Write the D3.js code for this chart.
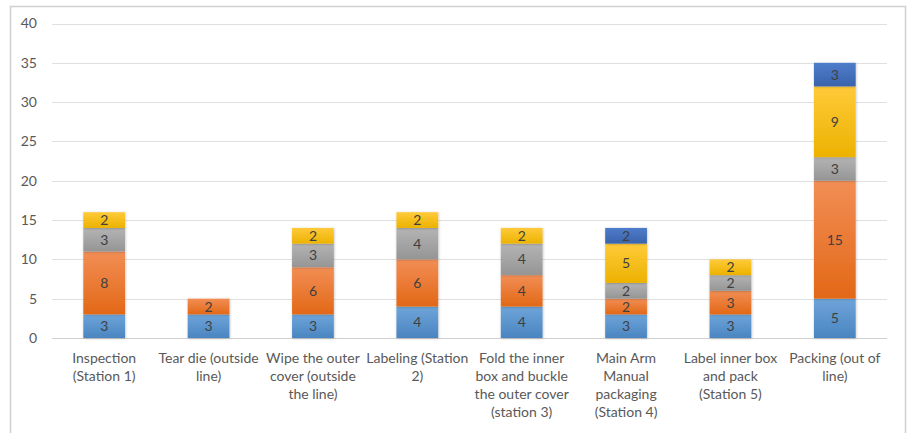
<!DOCTYPE html>
<html><head><meta charset="utf-8">
<script src="https://cdn.jsdelivr.net/npm/d3@7"></script>
<style>body{margin:0;background:#fff}svg{display:block}</style>
</head><body>
<svg id="c" width="907" height="433"></svg>
<script>
const categories = [
  "Inspection\n(Station 1)",
  "Tear die (outside\nline)",
  "Wipe the outer\ncover (outside\nthe line)",
  "Labeling (Station\n2)",
  "Fold the inner\nbox and buckle\nthe outer cover\n(station 3)",
  "Main Arm\nManual\npackaging\n(Station 4)",
  "Label inner box\nand pack\n(Station 5)",
  "Packing (out of\nline)"
];
const seriesNames = ["S1","S2","S3","S4","S5"];
const s1 = [3,3,3,4,4,3,3,5];
const s2 = [8,2,6,6,4,2,3,15];
const s3 = [3,0,3,4,4,2,2,3];
const s4 = [2,0,2,2,2,5,2,9];
const s5 = [0,0,0,0,0,2,0,3];
const yTicks = [0,5,10,15,20,25,30,35,40];

const colors = [
  ["#6ea4d9","#4a85c1"],
  ["#f28e55","#e26817"],
  ["#b4b4b4","#959595"],
  ["#ffca3a","#ecb200"],
  ["#4f7ccb","#3a63ab"]
];
const FONT = "Lato, 'Open Sans', sans-serif";

const svg = d3.select("#c");
svg.append("path").attr("d","M10.5,433 L10.5,6.5 L905.5,6.5 L905.5,433")
  .attr("fill","none").attr("stroke","#d0d0d0").attr("stroke-width",1.5);

const x = d3.scaleBand().domain(d3.range(categories.length)).range([52,887]).paddingInner(0.6).paddingOuter(0.3);
const y = d3.scaleLinear().domain([0,40]).range([338,23.5]);

const defs = svg.append("defs");
colors.forEach((c,i)=>{
  const g = defs.append("linearGradient").attr("id","g"+i).attr("x1",0).attr("y1",0).attr("x2",0).attr("y2",1);
  g.append("stop").attr("offset","0%").attr("stop-color",c[0]);
  g.append("stop").attr("offset","100%").attr("stop-color",c[1]);
});
const f = defs.append("filter").attr("id","sh").attr("x","-20%").attr("y","-20%").attr("width","140%").attr("height","140%");
f.append("feDropShadow").attr("dx",0.5).attr("dy",0.5).attr("stdDeviation",1).attr("flood-color","#000").attr("flood-opacity",0.25);

const grid = svg.append("g");
yTicks.forEach(t=>{
  grid.append("line").attr("x1",52).attr("x2",887).attr("y1",Math.round(y(t))+0.5).attr("y2",Math.round(y(t))+0.5)
    .attr("stroke", t===0 ? "#d0d0d0" : "#e0e0e0").attr("stroke-width", t===0?1.2:1);
});
const yAxis = d3.axisLeft(y).tickValues(yTicks).tickSize(0).tickPadding(0);
const ya = svg.append("g").attr("transform","translate(37,0)").call(yAxis);
ya.select(".domain").remove();
ya.selectAll("text").attr("fill","#595959").style("font-family",FONT).style("font-size","14px");

const data = categories.map((c,i)=>({i, S1:s1[i],S2:s2[i],S3:s3[i],S4:s4[i],S5:s5[i]}));
const stack = d3.stack().keys(seriesNames)(data);

const bars = svg.append("g");
stack.forEach((layer,si)=>{
  layer.forEach((d,ci)=>{
    const v = d[1]-d[0];
    if (v<=0) return;
    bars.append("rect").attr("x",x(ci)).attr("width",x.bandwidth())
      .attr("y",y(d[1])).attr("height",y(d[0])-y(d[1]))
      .attr("fill","url(#g"+si+")").attr("filter","url(#sh)");
  });
});
stack.forEach((layer,si)=>{
  layer.forEach((d,ci)=>{
    const v = d[1]-d[0];
    if (v<=0) return;
    bars.append("text").attr("x",x(ci)+x.bandwidth()/2).attr("y",(y(d[0])+y(d[1]))/2)
      .attr("dy","0.36em").attr("text-anchor","middle").attr("fill","#404040")
      .style("font-family",FONT).style("font-size","14px").text(v);
  });
});

const xl = svg.append("g");
categories.forEach((c,i)=>{
  const t = xl.append("text").attr("text-anchor","middle").attr("fill","#595959")
    .style("font-family",FONT).style("font-size","14px");
  c.split("\n").forEach((ln,k)=>{
    t.append("tspan").attr("x",x(i)+x.bandwidth()/2).attr("y",363+k*18).text(ln);
  });
});
</script>
</body></html>
